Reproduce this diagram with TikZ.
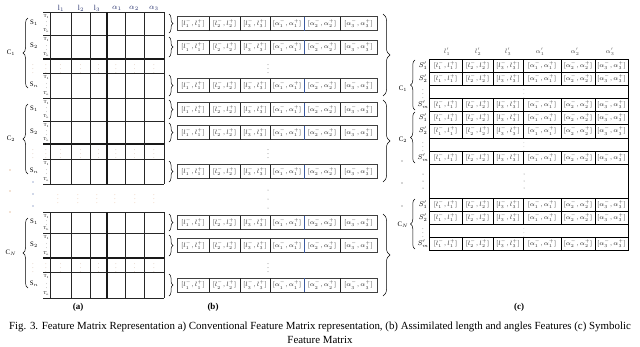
\RequirePackage{fix-cm}
\documentclass[tikz,border=0pt]{standalone}
\usepackage{fontspec}
\setmainfont{Liberation Serif}
\usetikzlibrary{decorations.pathreplacing}
\definecolor{dotor}{RGB}{205,130,70}
\definecolor{dotbl}{RGB}{60,90,160}
\definecolor{hdr}{RGB}{40,50,110}
\newcommand\celltx[1]{\ifcase#1\or$[l_1^-,l_1^+]$\or$[l_2^-,l_2^+]$\or$[l_3^-,l_3^+]$\or$[\alpha_1^-,\alpha_1^+]$\or$[\alpha_2^-,\alpha_2^+]$\or$[\alpha_3^-,\alpha_3^+]$\fi}
\begin{document}
\begin{tikzpicture}[x=1pt,y=-1pt,
  gl/.style={line width=0.55pt,draw=black!85},
  tkl/.style={line width=1.1pt,draw=black!90},
  bl/.style={line width=0.75pt,draw=black!75},
  cl/.style={line width=0.85pt,draw=black},
  brc/.style={decorate,decoration={brace,amplitude=#1},line width=0.5pt},
  hd/.style={font=\fontsize{7.5}{8}\selectfont,inner sep=0pt,text=hdr},
  sl/.style={font=\fontsize{6.8}{7}\selectfont,inner sep=0pt},
  tl/.style={font=\fontsize{4.3}{4.5}\selectfont,inner sep=0pt},
  ce/.style={font=\fontsize{6.3}{7}\selectfont,inner sep=0pt,text=black!85},
  vd/.style={font=\fontsize{5}{5}\selectfont,inner sep=0pt},
  dt/.style={circle,fill=#1,inner sep=0pt,minimum size=1.4pt},
  captxt/.style={font=\fontsize{10.9}{13}\selectfont,inner sep=0pt},
  sublbl/.style={font=\bfseries\fontsize{9}{10}\selectfont,inner sep=0pt}
]
\useasboundingbox (0,0) rectangle (640,346);
\fill[white] (0,0) rectangle (640,346);

% ---------- (a) headers ----------
\foreach \x/\t [count=\k] in {61/{l$_1$},81/{l$_2$},97/{l$_3$},117/{$\alpha_1$},134/{$\alpha_2$},154/{$\alpha_3$}}
  \node[hd] (ah\k) at (\x,8) {\t};

% ---------- (a) and (b) groups ----------
\foreach \g/\ya/\yb/\yc/\yd/\ye/\cl in {1/12/35/59/73/98/{C$_1$},2/98/121/144/159/184/{C$_2$},3/212/233/258/272/298/{C$_N$}}{
  \foreach \y in {\ya,\yb,\yd,\ye} \draw[gl] (43,\y) -- (164,\y);
  \draw[tkl] (43,\yc) -- (164,\yc);
  \foreach \x in {50,71,90,125,144,164} \draw[gl] (\x,\ya) -- (\x,\ye);
  \draw[tkl] (107,\ya) -- (107,\ye);
  \draw[brc=5] (28,\ye-10) -- (28,\ya+6);
  \node[sl] (a\g c) at (11,{(\ya+\ye)/2-2}) {\cl};
  % dots row
  \foreach \x [count=\k] in {33,46,60.5,80.5,98.5,116,134.5,154}
    \node[vd,text=dotor!60!gray] (a\g d\k) at (\x,{(\yc+\yd)/2}) {$\vdots$};
  \node[font=\fontsize{8}{8}\selectfont,inner sep=0pt,text=gray] (b\g d) at (268,{(\yc+\yd)/2}) {$\vdots$};
  % big right brace of (b)
  \draw[brc=7] (383,\ya+2) -- (383,\ye-2);
  % S rows
  \foreach \ra/\rb/\s [count=\i] in {\ya/\yb/{S$_1$},\yb/\yc/{S$_2$},\yd/\ye/{S$_n$}}{
    \node[sl] (a\g s\i) at (34,{(\ra+\rb)/2-1}) {\s};
    \node[tl] (a\g t\i a) at (46.5,\ra+4.5) {T$_1$};
    \node[tl] (a\g t\i m) at (46.5,{(\ra+\rb)/2}) {$\vdots$};
    \node[tl] (a\g t\i b) at (46.5,\rb-4.5) {T$_n$};
    \draw[brc=4] (169,\ra+2) -- (169,\rb-2);
    \draw[bl] (177,{(\ra+\rb)/2-7}) rectangle (377,{(\ra+\rb)/2+7});
    \foreach \x in {209,240,270,340} \draw[gl] (\x,{(\ra+\rb)/2-7}) -- (\x,{(\ra+\rb)/2+7});
    \draw[line width=0.7pt,draw=dotbl] (304,{(\ra+\rb)/2-7}) -- (304,{(\ra+\rb)/2+7});
    \foreach \cx [count=\k] in {193,224.5,255,287,322,358.5}
      \node[ce] (b\g r\i c\k) at (\cx,{(\ra+\rb)/2}) {\celltx{\k}};
  }
}

% ---------- (a) gap between C2 and CN ----------
\foreach \y [count=\k] in {170,191,212} \node[dt=dotor] (ag\k) at (10,\y) {};
\foreach \y [count=\k] in {182,194,206} \node[dt=dotbl] (ab\k) at (33,\y) {};
\foreach \x [count=\k] in {58,78,97,115,135,154}
  \node[vd,text=dotor] (av\k) at (\x,196) {$\vdots$};
\foreach \y [count=\k] in {190,199,208} \node[dt=gray,minimum size=1pt] (bg\k) at (268,\y) {};

% ---------- (c) headers ----------
\foreach \x/\t [count=\k] in {447/{$l'_1$},478/{$l'_2$},508/{$l'_3$},540/{$\alpha'_1$},575/{$\alpha'_2$},610/{$\alpha'_3$}}
  \node[ce,font=\fontsize{6.5}{7}\selectfont,text=black!70] (ch\k) at (\x,52) {\t};

% ---------- (c) groups ----------
\foreach \g/\ya/\yb/\yc/\yd/\ye/\cl/\lo in {1/59/72/85/98/111/{C$_1$}/4,2/111/124/138/151/164/{C$_2$}/2,3/198/211/224/237/250/{C$_N$}/1}{
  \draw[cl] (429,\ya) rectangle (628,\ye);
  \foreach \y in {\yb,\yc,\yd} \draw[cl] (429,\y) -- (628,\y);
  \draw[brc=4.5] (415,\ye-1) -- (415,\ya+1);
  \node[sl] (c\g c) at (403,{(\ya+\ye)/2+\lo}) {\cl};
  \node[vd] (c\g d1) at (423,{(\yc+\yd)/2}) {$\vdots$};
  \node[vd,text=gray] (c\g d2) at (524,{(\yc+\yd)/2}) {$\vdots$};
  \foreach \ra/\rb/\s [count=\i] in {\ya/\yb/{$S'_1$},\yb/\yc/{$S'_2$},\yd/\ye/{$S'_m$}}{
    \foreach \x in {462,493,523,561,595} \draw[cl] (\x,\ra) -- (\x,\rb);
    \node[sl] (c\g s\i) at (423,{(\ra+\rb)/2}) {\s};
    \foreach \cx [count=\k] in {445.5,477.5,508,542,578,611.5}
      \node[ce] (c\g r\i c\k) at (\cx,{(\ra+\rb)/2}) {\celltx{\k}};
  }
}
\draw[cl] (429,164) -- (429,198);
\draw[cl] (628,164) -- (628,198);
\foreach \y [count=\k] in {161,183,206} \node[dt=black!70] (cg\k) at (402,\y) {};
\foreach \y [count=\k] in {174,181,188} \node[dt=black!70,minimum size=1pt] (cgl\k) at (423,\y) {};
\foreach \y [count=\k] in {174,181,188} \node[dt=gray,minimum size=1pt] (cgv\k) at (524,\y) {};

% ---------- sub labels and caption ----------
\node[sublbl] (la) at (78,307) {(a)};
\node[sublbl] (lb) at (213,307) {(b)};
\node[sublbl] (lc) at (519,307) {(c)};
\node[captxt] (cap1) at (320,327) {Fig. 3. Feature Matrix Representation a) Conventional Feature Matrix representation, (b) Assimilated length and angles Features (c) Symbolic};
\node[captxt] (cap2) at (320,339.5) {Feature Matrix};
\end{tikzpicture}
\end{document}
